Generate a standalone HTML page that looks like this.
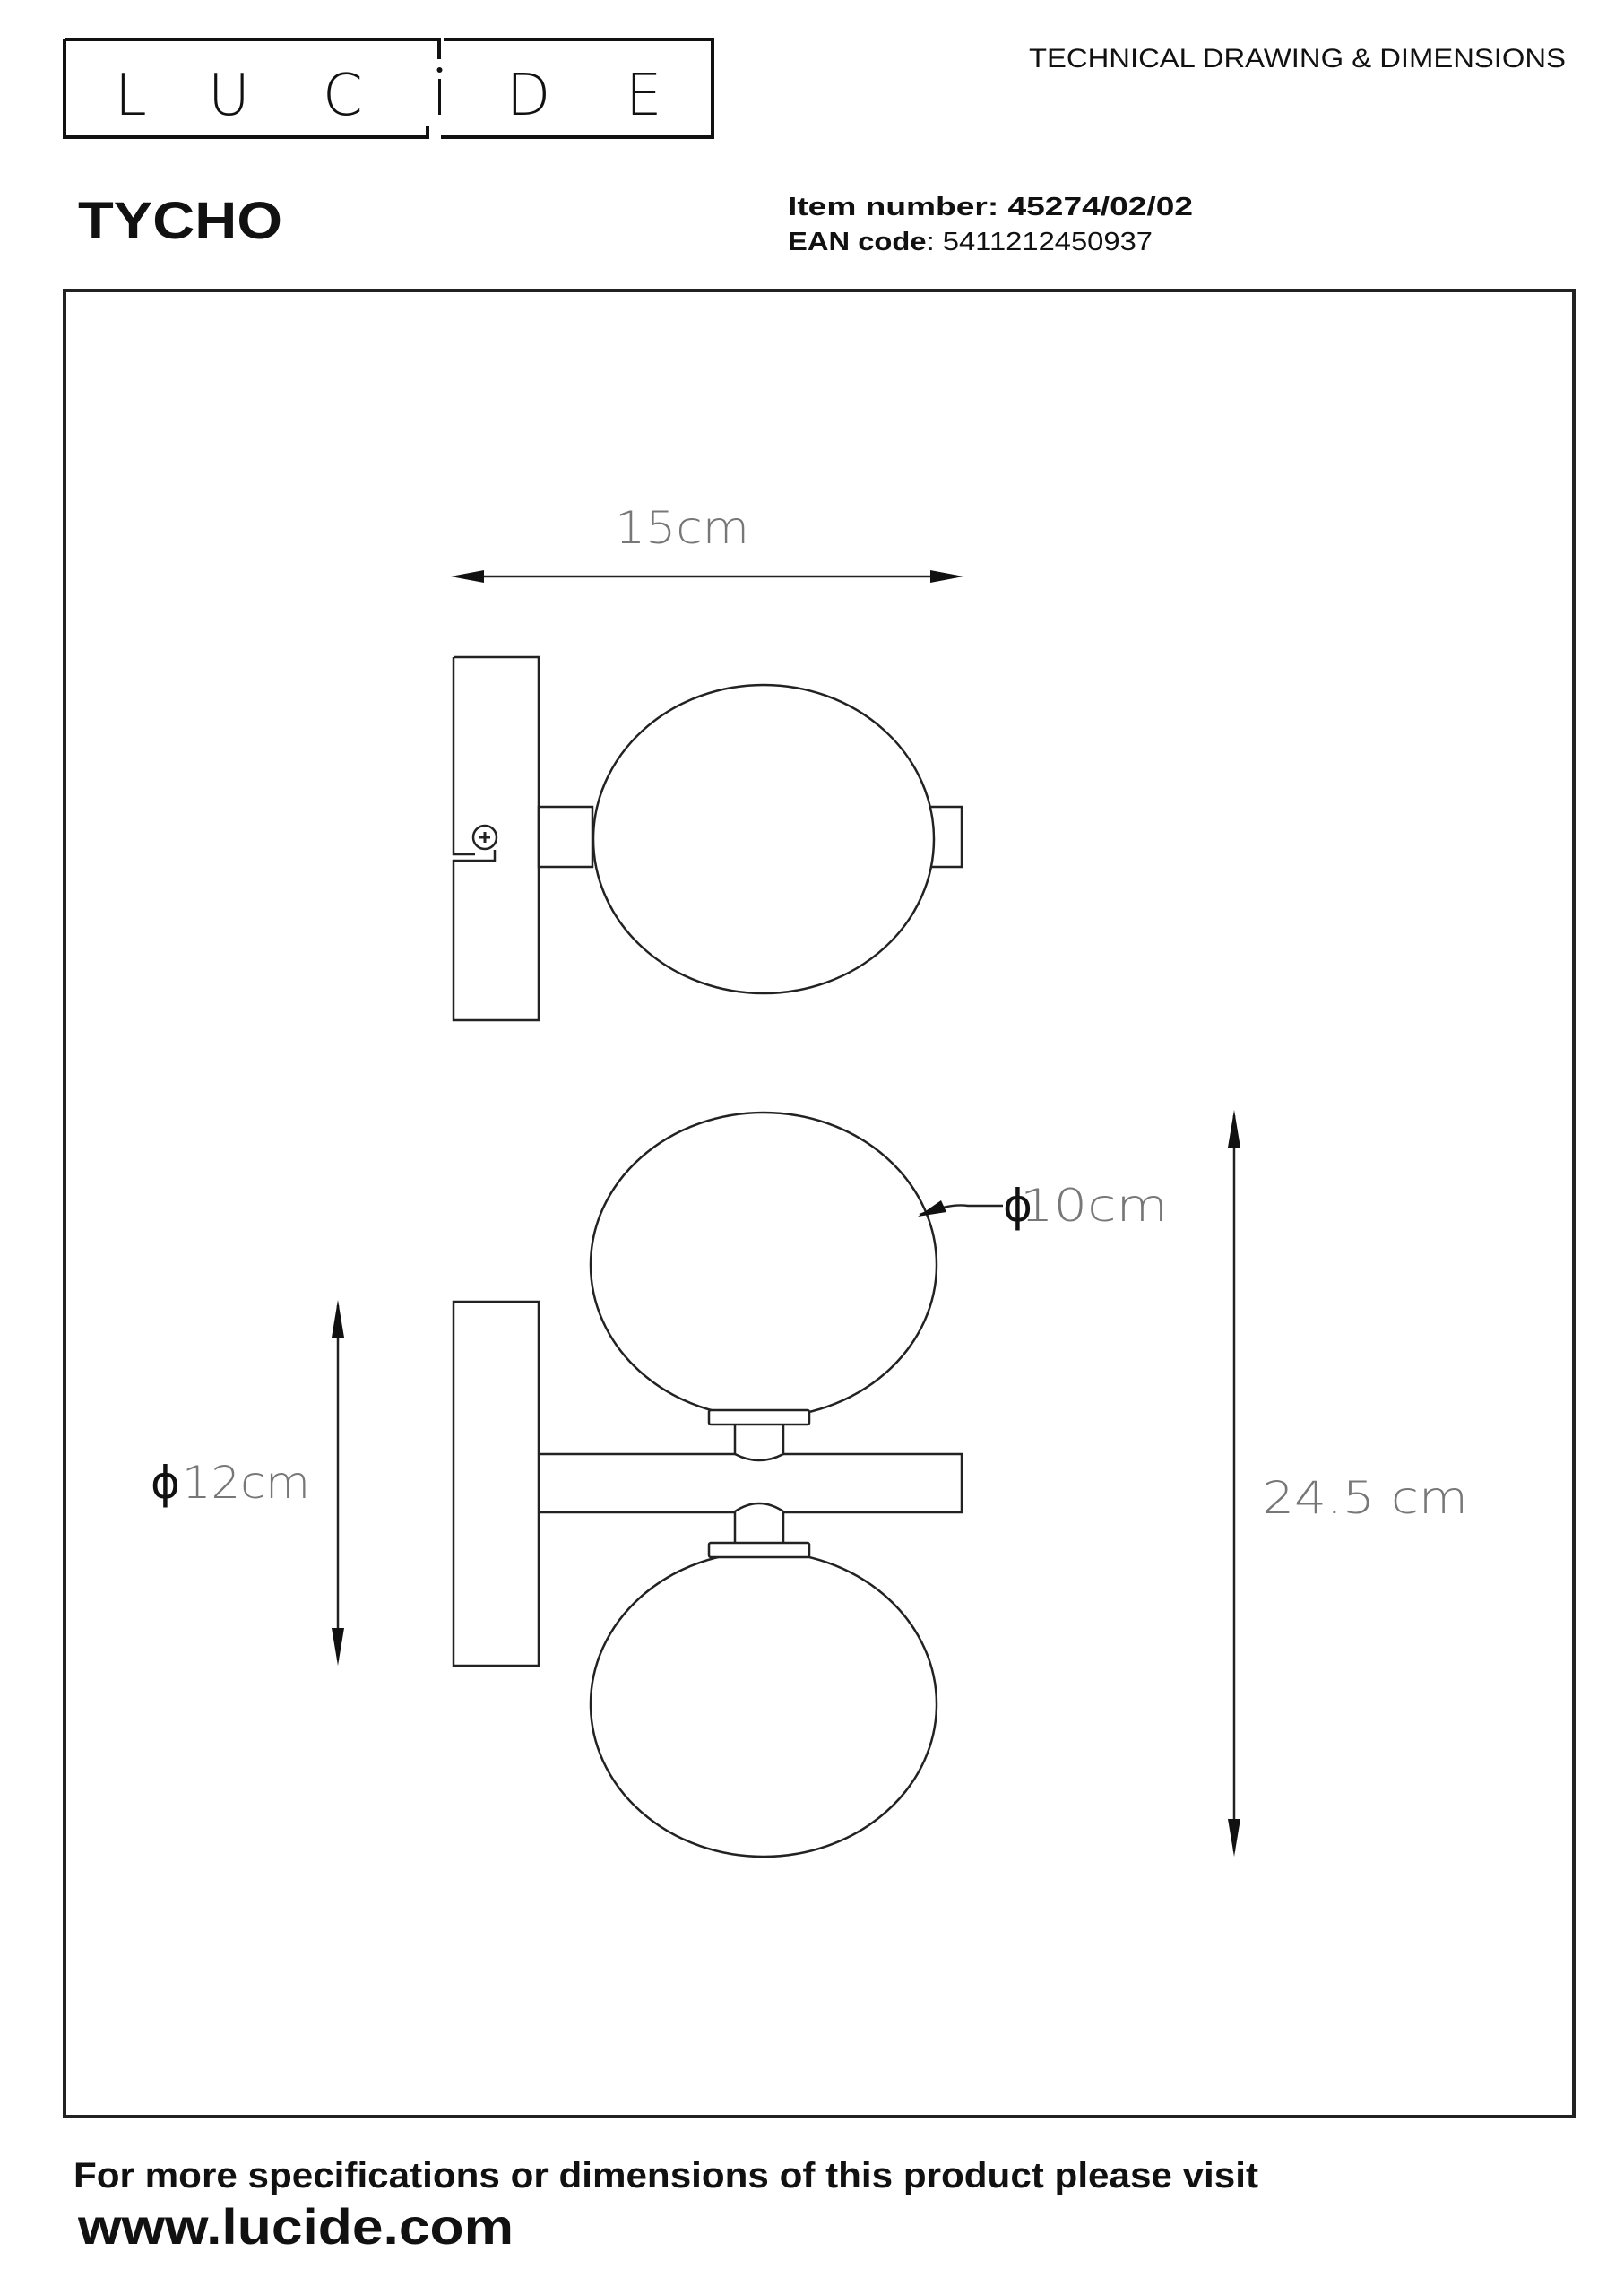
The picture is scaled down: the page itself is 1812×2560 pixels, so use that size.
<!DOCTYPE html>
<html><head><meta charset="utf-8"><style>
html,body{margin:0;padding:0;background:#fff;}
svg{display:block;}
</style></head><body>
<svg width="1812" height="2560" viewBox="0 0 1812 2560" xmlns="http://www.w3.org/2000/svg">
<rect width="1812" height="2560" fill="#fff"/>
<!-- logo -->
<g fill="none" stroke="#111" stroke-width="4">
<path d="M72 44 H490 V66 M72 44 V153 H477 V140"/>
<path d="M495 44 H795 V153 H492"/>
</g>
<g font-family="DejaVu Sans, sans-serif" font-size="64" fill="#111" font-weight="200">
<text x="128" y="128">L</text>
<text x="232" y="128">U</text>
<text x="360" y="128">C</text>
<text x="565" y="128">D</text>
<text x="698" y="128">E</text>
</g>
<rect x="489" y="88" width="3" height="40" fill="#111"/>
<circle cx="490.5" cy="78" r="3" fill="#111"/>
<text x="1148" y="75" font-family="Liberation Sans, sans-serif" font-size="30" fill="#111" textLength="599" lengthAdjust="spacingAndGlyphs">TECHNICAL DRAWING &amp; DIMENSIONS</text>
<text x="87" y="266" font-family="Liberation Sans, sans-serif" font-size="58" font-weight="bold" fill="#111" textLength="228" lengthAdjust="spacingAndGlyphs">TYCHO</text>
<text x="879" y="240" font-family="Liberation Sans, sans-serif" font-size="29" font-weight="bold" fill="#111" textLength="452" lengthAdjust="spacingAndGlyphs">Item number: 45274/02/02</text>
<text x="879" y="279" font-family="Liberation Sans, sans-serif" font-size="29" fill="#111" textLength="407" lengthAdjust="spacingAndGlyphs"><tspan font-weight="bold">EAN code</tspan>: 5411212450937</text>
<!-- frame -->
<rect x="72" y="324" width="1684" height="2037" fill="none" stroke="#222" stroke-width="4"/>
<!-- 15cm -->
<text x="761" y="606" text-anchor="middle" font-family="DejaVu Sans, sans-serif" font-weight="200" font-size="50" fill="#777" textLength="150" lengthAdjust="spacingAndGlyphs">15cm</text>
<g stroke="#222" stroke-width="2.5" fill="#111">
<line x1="510" y1="643" x2="1068" y2="643"/>
<polygon points="503,643 540,636 540,650" stroke="none"/>
<polygon points="1075,643 1038,636 1038,650" stroke="none"/>
</g>
<!-- side view -->
<g fill="none" stroke="#222" stroke-width="2.5">
<path d="M506 733 H601 V1138 H506 V960 H552 V948 M506 733 V953 H530"/>
<circle cx="541" cy="934" r="13"/>
<path d="M535 934 h12 M541 928 v12" stroke-width="3"/>
<rect x="601" y="900" width="60" height="67"/>
<rect x="1037" y="900" width="36" height="67" fill="#fff"/>
<ellipse cx="852" cy="936" rx="190" ry="172" fill="#fff"/>
</g>
<!-- front view -->
<g fill="none" stroke="#222" stroke-width="2.5">
<ellipse cx="852" cy="1411" rx="193" ry="170"/>
<ellipse cx="852" cy="1901" rx="193" ry="170"/>
<rect x="791" y="1573" width="112" height="16" rx="2" fill="#fff"/>
<rect x="791" y="1721" width="112" height="16" rx="2" fill="#fff"/>
<path d="M820 1589 V1622 Q847 1636 874 1622 V1589"/>
<path d="M820 1721 V1686 Q847 1668 874 1686 V1721"/>
<path d="M601 1622 H820 M874 1622 H1073 V1687 H874 M820 1687 H601"/>
<rect x="506" y="1452" width="95" height="406"/>
</g>
<!-- dims -->
<g stroke="#222" stroke-width="2.5" fill="#111">
<line x1="377" y1="1456" x2="377" y2="1852"/>
<polygon points="377,1450 370,1492 384,1492" stroke="none"/>
<polygon points="377,1858 370,1816 384,1816" stroke="none"/>
<line x1="1377" y1="1244" x2="1377" y2="2065"/>
<polygon points="1377,1238 1370,1280 1384,1280" stroke="none"/>
<polygon points="1377,2071 1370,2029 1384,2029" stroke="none"/>
<path d="M1026 1355 Q1060 1342 1080 1345 L1119 1345" fill="none"/>
<polygon points="1024,1357 1050,1339 1056,1352" stroke="none"/>
</g>
<g font-family="DejaVu Sans, sans-serif" font-weight="200" font-size="50" fill="#777">
<text x="1138" y="1362" textLength="165" lengthAdjust="spacingAndGlyphs">10cm</text>
<text x="203" y="1671" textLength="143" lengthAdjust="spacingAndGlyphs">12cm</text>
<text x="1408" y="1688" textLength="230" lengthAdjust="spacingAndGlyphs">24.5 cm</text>
</g>
<g font-family="DejaVu Sans, sans-serif" font-size="50" fill="#111">
<text x="1119" y="1362">ϕ</text>
<text x="168" y="1671">ϕ</text>
</g>
<!-- footer -->
<text x="82" y="2440" font-family="Liberation Sans, sans-serif" font-size="40" font-weight="bold" fill="#111" textLength="1322" lengthAdjust="spacingAndGlyphs">For more specifications or dimensions of this product please visit</text>
<text x="87" y="2503" font-family="Liberation Sans, sans-serif" font-size="56" font-weight="bold" fill="#111" textLength="486" lengthAdjust="spacingAndGlyphs">www.lucide.com</text>
</svg>
</body></html>
